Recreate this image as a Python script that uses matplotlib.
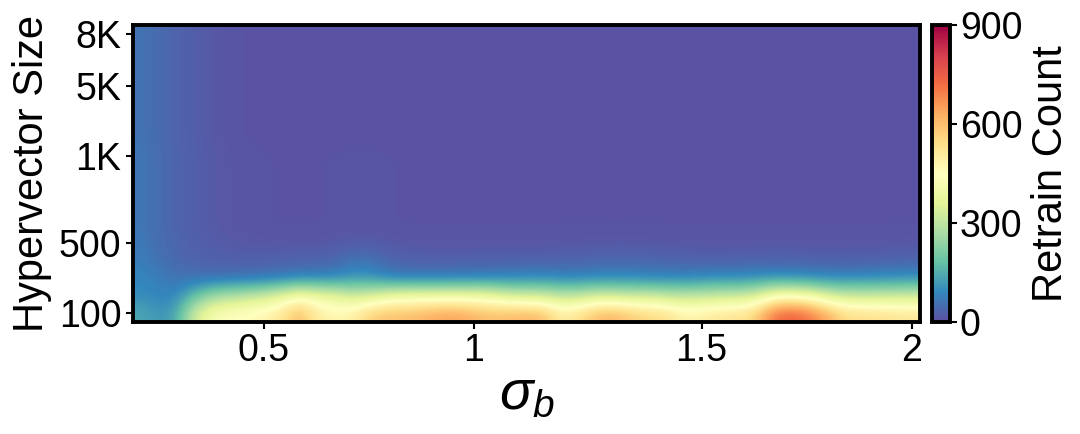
import numpy as np
import matplotlib
matplotlib.use('Agg')
import matplotlib.pyplot as plt

plt.rcParams['font.family'] = ['Liberation Sans', 'DejaVu Sans']
plt.rcParams['mathtext.fontset'] = 'custom'
plt.rcParams['mathtext.it'] = 'Liberation Sans:italic'
plt.rcParams['mathtext.rm'] = 'Liberation Sans'

# sigma_b Werte (Spalten) und Hypervektor-Groessen (Zeilen)
sigma_b = [0.22, 0.26, 0.30, 0.34, 0.38, 0.42, 0.46, 0.50,
           0.54, 0.58, 0.62, 0.67, 0.71, 0.75, 0.79, 0.83, 0.87, 0.92, 0.96, 1.00,
           1.04, 1.08, 1.12, 1.15, 1.19, 1.23, 1.27, 1.31, 1.35, 1.38, 1.42, 1.46, 1.50,
           1.54, 1.58, 1.62, 1.67, 1.71, 1.75, 1.79, 1.83, 1.87, 1.92, 1.96, 2.00]
hv_sizes = [100, 200, 300, 400, 500, 600, 700, 800, 900, 1000,
            2000, 3000, 4000, 5000, 6000, 7000, 8000]

# Retrain Count
row_100 = [140, 110, 140, 330, 420, 450, 460, 480, 520, 620, 500, 480, 490, 570, 600,
           600, 620, 640, 650, 620, 600, 610, 620, 600, 500, 540, 610, 620, 580, 560,
           540, 490, 500, 520, 530, 560, 710, 750, 720, 650, 560, 540, 540, 530, 520]
row_200 = [100, 85, 90, 180, 250, 280, 300, 330, 370, 430, 400, 380, 330, 340, 380,
           400, 400, 400, 400, 400, 390, 340, 330, 330, 300, 310, 330, 330, 320, 320,
           310, 300, 310, 320, 320, 340, 420, 440, 420, 360, 320, 320, 320, 320, 330]
row_300 = [88, 75, 60, 55, 52, 55, 55, 60, 70, 80, 80, 85, 110, 110, 80,
           70, 70, 70, 75, 75, 80, 85, 90, 90, 85, 85, 90, 90, 90, 85,
           85, 85, 90, 95, 95, 100, 105, 100, 95, 90, 90, 90, 95, 100, 100]
row_400 = [76, 56, 42, 34, 30, 28, 28, 30, 30, 32, 35, 40, 60, 60, 40,
           30, 28, 28, 28, 28, 28, 30, 30, 30, 32, 35, 38, 40, 40, 38,
           35, 32, 30, 30, 30, 30, 32, 32, 30, 28, 28, 28, 30, 32, 35]
row_500 = [68, 50, 37, 28, 22, 18, 16, 15, 15, 15, 15, 16, 20, 20, 16,
           15, 14, 14, 14, 14, 14, 14, 14, 14, 15, 15, 16, 16, 16, 15,
           15, 14, 14, 14, 14, 14, 14, 14, 14, 14, 14, 14, 14, 15, 16]
row_mid = [64, 47, 35, 26, 19, 14, 12, 11, 10, 10, 10, 11, 12, 12, 11,
           10, 10, 10, 10, 10, 10, 10, 10, 10, 10, 10, 10, 10, 10, 10,
           10, 10, 10, 10, 10, 10, 10, 10, 10, 10, 10, 10, 10, 10, 10]
row_top = [60, 45, 33, 24, 17, 12, 10, 9, 8, 8, 8, 8, 8, 8, 8,
           8, 8, 8, 8, 8, 8, 8, 8, 8, 8, 8, 8, 8, 8, 8,
           8, 8, 8, 8, 8, 8, 8, 8, 8, 8, 8, 8, 8, 8, 8]

retrain = np.array([row_100, row_200, row_300, row_400, row_500]
                   + [row_mid] * 5 + [row_top] * 7, dtype=float)

x_ticks = [0.5, 1.0, 1.5, 2.0]
x_labels = ['0.5', '1', '1.5', '2']
y_ticks = [100, 500, 1000, 5000, 8000]
y_labels = ['100', '500', '1K', '5K', '8K']

fig = plt.figure(figsize=(10.8, 4.34), dpi=100)
ax = fig.add_axes([0.1227, 0.258, 0.7296, 0.6844])
cax = fig.add_axes([0.8630, 0.258, 0.0167, 0.6844])

im = ax.imshow(retrain, origin='lower', aspect='auto', cmap='Spectral_r',
               vmin=0, vmax=900, interpolation='bicubic',
               extent=(-0.5, len(sigma_b) - 0.5, -0.5, len(hv_sizes) - 0.5))

ax.set_xticks([sigma_b.index(v) for v in x_ticks])
ax.set_xticklabels(x_labels)
ax.set_yticks([hv_sizes.index(v) for v in y_ticks])
ax.set_yticklabels(y_labels)
ax.tick_params(labelsize=27, width=1.5, length=5, pad=3)
for sp in ax.spines.values():
    sp.set_linewidth(2.8)

ax.set_xlabel(r'$\sigma_b$', fontsize=40, labelpad=0)
ax.set_ylabel('Hypervector Size', fontsize=30, labelpad=5)

cb = fig.colorbar(im, cax=cax, ticks=[0, 300, 600, 900])
cb.ax.tick_params(labelsize=27, width=1.5, length=5, pad=2)
cb.outline.set_linewidth(2.8)
cb.set_label('Retrain Count', fontsize=30, labelpad=6)

plt.savefig('out.png', dpi=100)
